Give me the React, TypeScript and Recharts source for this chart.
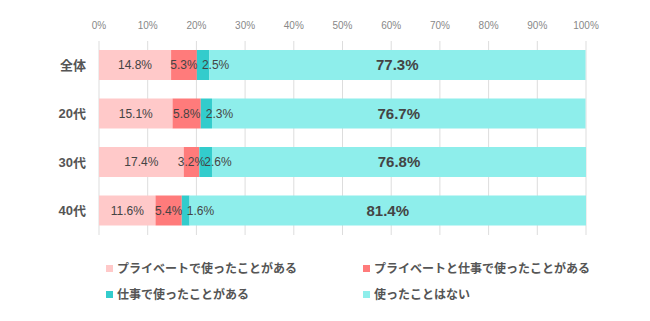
import React from "react";
import { BarChart, Bar, XAxis, YAxis, CartesianGrid, LabelList, Legend } from "recharts";

const categories = ["全体", "20代", "30代", "40代"];
const privateOnly = [14.8, 15.1, 17.4, 11.6];
const privateAndWork = [5.3, 5.8, 3.2, 5.4];
const workOnly = [2.5, 2.3, 2.6, 1.6];
const never = [77.3, 76.7, 76.8, 81.4];
const xTicks = [0, 10, 20, 30, 40, 50, 60, 70, 80, 90, 100];

const seriesNames = [
  "プライベートで使ったことがある",
  "プライベートと仕事で使ったことがある",
  "仕事で使ったことがある",
  "使ったことはない",
];
const colors = ["#ffc9c9", "#ff7b7b", "#33cccc", "#8eeeeb"];

const data = categories.map((name, i) => ({
  name,
  a: privateOnly[i],
  b: privateAndWork[i],
  c: workOnly[i],
  d: never[i],
}));

const FONT = "'Liberation Sans', 'Noto Sans CJK JP', sans-serif";
const CJK = "'Noto Sans CJK JP', sans-serif";
const fmt = (v: any) => `${v}%`;

const LegendContent = () => {
  const pos = [
    { left: 106, top: 29 },
    { left: 363, top: 29 },
    { left: 106, top: 55 },
    { left: 363, top: 55 },
  ];
  return (
    <div style={{ position: "relative", width: 650, height: 70, fontFamily: CJK }}>
      {seriesNames.map((n, i) => (
        <div
          key={n}
          style={{
            position: "absolute",
            left: pos[i].left,
            top: pos[i].top,
            display: "flex",
            alignItems: "center",
            height: 8,
          }}
        >
          <div style={{ width: 7, height: 7, background: colors[i], marginRight: 4 }} />
          <span style={{ fontSize: 12, fontWeight: 700, color: "#555", lineHeight: "12px", whiteSpace: "nowrap" }}>
            {n}
          </span>
        </div>
      ))}
    </div>
  );
};

export default function App() {
  return (
    <div style={{ position: "absolute", left: 0, top: 0, width: 650, height: 321, background: "#fff" }}>
      <BarChart
        width={650}
        height={321}
        data={data}
        layout="vertical"
        barSize={30}
        margin={{ top: 11, right: 64, bottom: 16, left: 0 }}
        style={{ fontFamily: FONT }}
      >
        <CartesianGrid horizontal={false} stroke="#dddddd" />
        <XAxis
          type="number"
          orientation="top"
          domain={[0, 100]}
          ticks={xTicks}
          tickFormatter={fmt}
          axisLine={false}
          tickLine={false}
          tickMargin={6}
          tick={{ fontSize: 10, fill: "#888" }}
          interval={0}
        />
        <YAxis
          type="category"
          dataKey="name"
          width={99}
          axisLine={false}
          tickLine={false}
          tickMargin={7}
          tick={{ fontSize: 13, fill: "#555", fontWeight: 700 }}
        />
        <Legend verticalAlign="bottom" content={<LegendContent />} wrapperStyle={{ left: 0, width: 650 }} />
        <Bar dataKey="a" stackId="s" fill={colors[0]} isAnimationActive={false}>
          <LabelList dataKey="a" position="center" formatter={fmt} fill="#444" fontSize={12} />
        </Bar>
        <Bar dataKey="b" stackId="s" fill={colors[1]} isAnimationActive={false}>
          <LabelList dataKey="b" position="center" formatter={fmt} fill="#444" fontSize={12} />
        </Bar>
        <Bar dataKey="c" stackId="s" fill={colors[2]} isAnimationActive={false}>
          <LabelList dataKey="c" position="insideLeft" offset={5} formatter={fmt} fill="#444" fontSize={12} />
        </Bar>
        <Bar dataKey="d" stackId="s" fill={colors[3]} isAnimationActive={false}>
          <LabelList dataKey="d" position="center" formatter={fmt} fill="#444" fontSize={15} fontWeight={700} />
        </Bar>
      </BarChart>
    </div>
  );
}
